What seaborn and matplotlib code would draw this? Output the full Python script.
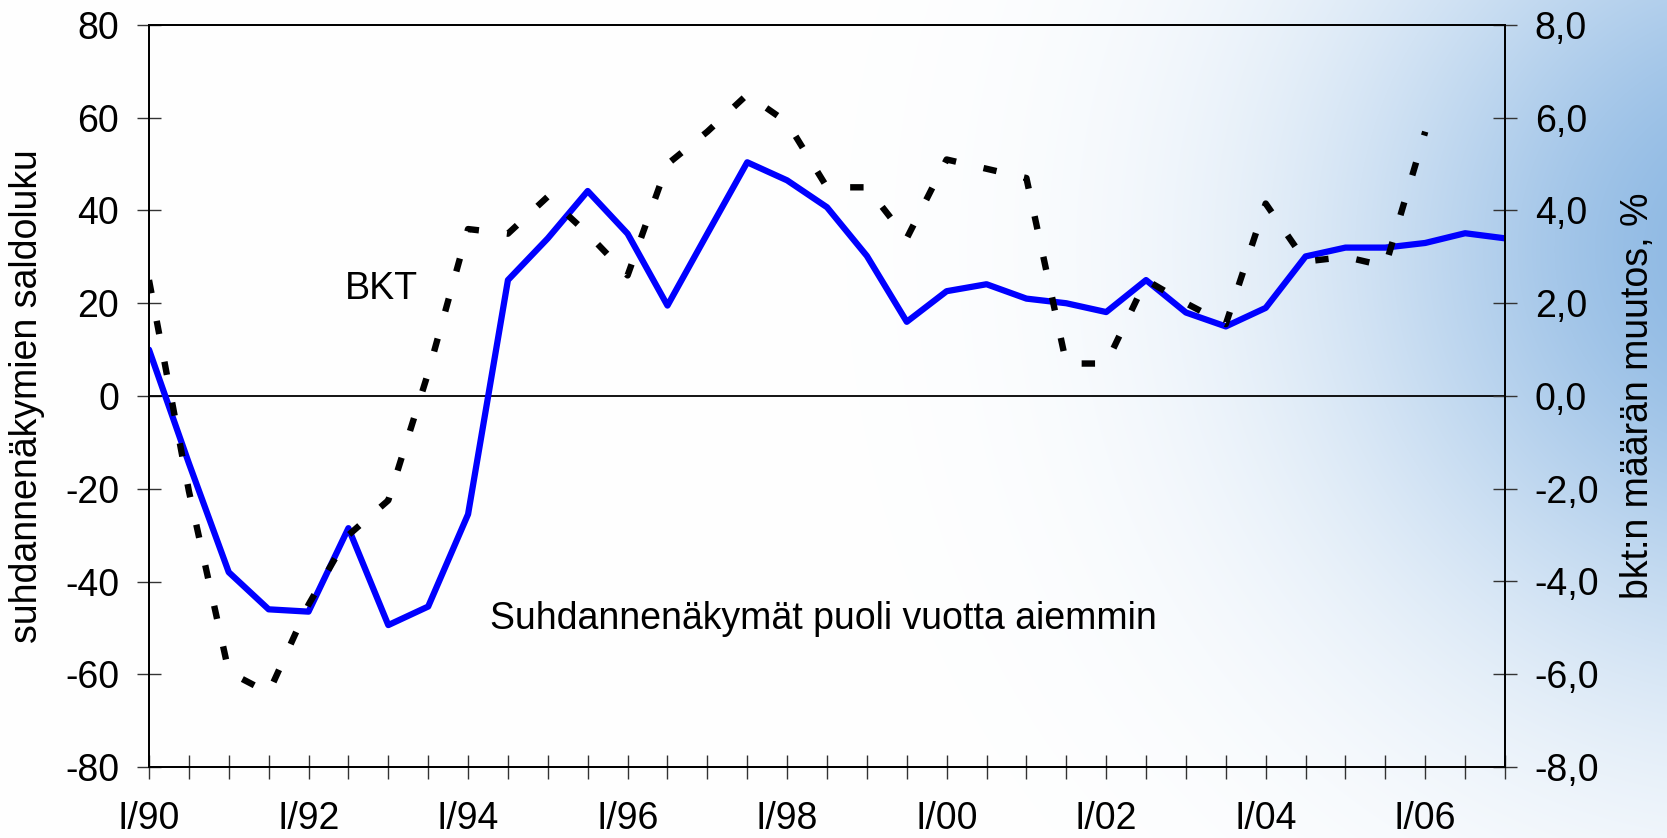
import numpy as np
import matplotlib
matplotlib.use('Agg')
import matplotlib.pyplot as plt
import seaborn as sns

# half-year periods, I/90 = 0 ... I/07 = 34
periods = list(range(35))
year_labels = ['I/90', 'I/92', 'I/94', 'I/96', 'I/98', 'I/00', 'I/02', 'I/04', 'I/06']

# business outlook balance (left axis), shifted half a year
outlook = [10, -14.5, -38, -46, -46.5, -28.5, -49.4, -45.4, -25.5, 25,
           34, 44.2, 35, 19.5, 35, 50.4, 46.5, 40.7, 30.2, 16,
           22.6, 24.1, 21, 20, 18.1, 25, 18, 15, 19, 30.1,
           32, 32, 33, 35.1, 34]

# GDP volume change, % (right axis)
bkt = [2.5, -2.05, -5.95, -6.4, -4.5, -3.0, -2.25, 0.5, 3.6, 3.5,
       4.3, 3.5, 2.6, 5.0, 5.7, 6.5, 5.9, 4.5, 4.5, 3.4,
       5.1, 4.9, 4.7, 0.7, 0.7, 2.5, 2.0, 1.55, 4.15, 2.9,
       3.0, 2.8, 5.7]

left_ticks = [-80, -60, -40, -20, 0, 20, 40, 60, 80]
right_ticks = [-8, -6, -4, -2, 0, 2, 4, 6, 8]
right_labels = ['-8,0', '-6,0', '-4,0', '-2,0', '0,0', '2,0', '4,0', '6,0', '8,0']

sns.set_style('white')
plt.rcParams['font.family'] = ['Liberation Sans', 'DejaVu Sans']
plt.rcParams['text.color'] = 'black'
plt.rcParams['axes.labelcolor'] = 'black'
plt.rcParams['xtick.color'] = 'black'
plt.rcParams['ytick.color'] = 'black'
fs = 27

W, H = 1667, 838
fig = plt.figure(figsize=(W / 100, H / 100), dpi=100)

# soft blue glow in the upper right corner
bg = fig.add_axes([0, 0, 1, 1], zorder=-10)
xx, yy = np.meshgrid(np.arange(W), np.arange(H))
t = np.exp(-(((xx - 1760) / 420.0) ** 2 + ((yy - 250) / 420.0) ** 2))
blue = np.array([0.55, 0.72, 0.89])
img = 1 - t[..., None] * (1 - blue)
bg.imshow(img, aspect='auto', extent=[0, 1, 0, 1])
bg.axis('off')

ax = fig.add_axes([149 / W, 1 - 767 / H, 1356 / W, 742 / H])
ax.patch.set_alpha(0)
ax2 = ax.twinx()
ax2.patch.set_alpha(0)

sns.lineplot(x=periods, y=outlook, ax=ax, color='#0000ff', lw=4.5)
sns.lineplot(x=periods[:len(bkt)], y=bkt, ax=ax2, color='black', lw=4.6,
             linestyle=(0, (2.1, 4.4)))

ax.axhline(0, color='black', lw=1.3, zorder=1)

ax.set_xlim(0, 34)
ax.set_ylim(-80, 80)
ax2.set_ylim(-8, 8)

ax.set_xticks(periods)
ax.set_xticklabels([year_labels[i // 4] if i % 4 == 0 else '' for i in periods], fontsize=fs)
ax.set_yticks(left_ticks)
ax.set_yticklabels([str(v) for v in left_ticks], fontsize=fs)
ax2.set_yticks(right_ticks)
ax2.set_yticklabels(right_labels, fontsize=fs)

ax.tick_params(axis='x', direction='inout', length=17, width=1, color='#333333', pad=16, bottom=True)
ax.tick_params(axis='y', direction='inout', length=17, width=1, color='#333333', pad=13, left=True)
ax2.tick_params(axis='y', direction='inout', length=17, width=1, color='#333333', pad=13, right=True)

for a in (ax, ax2):
    for s in a.spines.values():
        s.set_visible(True)
        s.set_color('black')
        s.set_linewidth(1.3)

ax.set_ylabel('suhdannenäkymien saldoluku', fontsize=fs)
ax.yaxis.set_label_coords(-0.077, 0.5)
ax2.set_ylabel('bkt:n määrän muutos, %', fontsize=fs)
ax2.yaxis.set_label_coords(1.085, 0.5)
ax.set_xlabel('')

ax.text(4.9, 21, 'BKT', fontsize=fs, ha='left', va='baseline')
ax.text(8.55, -50.2, 'Suhdannenäkymät puoli vuotta aiemmin', fontsize=fs, ha='left', va='baseline')

fig.savefig('out.png', dpi=100)
